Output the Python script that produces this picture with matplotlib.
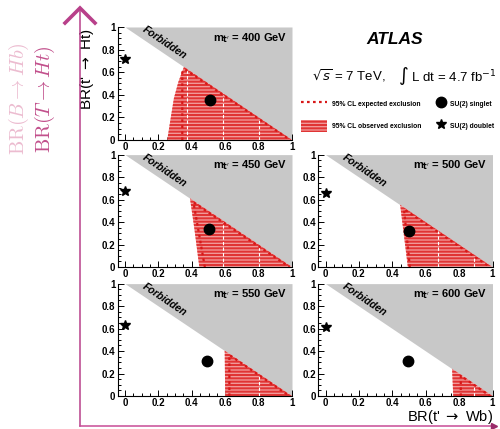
import matplotlib.pyplot as plt
from matplotlib.ticker import MultipleLocator, FuncFormatter
from matplotlib.lines import Line2D
from matplotlib.patches import Patch

plt.rcParams['font.family'] = ['Liberation Sans', 'DejaVu Sans']
plt.rcParams['hatch.linewidth'] = 1.45
plt.rcParams['hatch.color'] = '#e03434'

masses = [400, 450, 500, 550, 600]

# observed exclusion: left edge, bottom -> diagonal (BR(Wb), BR(Ht))
obs_x = {400: [0.253, 0.27, 0.293, 0.32, 0.353],
         450: [0.445, 0.415, 0.389],
         500: [0.493, 0.447],
         550: [0.600, 0.597],
         600: [0.765, 0.758]}
obs_y = {400: [0.0, 0.16, 0.37, 0.516, 0.647],
         450: [0.0, 0.345, 0.611],
         500: [0.0, 0.553],
         550: [0.0, 0.403],
         600: [0.0, 0.242]}

# expected exclusion contour
exp_x = {400: [0.343, 0.343, 0.36, 0.99],
         450: [0.478, 0.41, 0.985],
         500: [0.505, 0.47, 0.985],
         550: [0.625, 0.625, 0.985],
         600: [0.81, 0.81, 0.985]}
exp_y = {400: [0.0, 0.6, 0.625, 0.0],
         450: [0.0, 0.575, 0.0],
         500: [0.0, 0.515, 0.0],
         550: [0.0, 0.365, 0.0],
         600: [0.0, 0.18, 0.0]}

# white dashed grid artefacts inside the hatched area
grid_x = {400: [0.373, 0.589, 0.802],
          450: [0.589, 0.80],
          500: [0.674, 0.889],
          550: [0.80],
          600: [0.889]}

singlet_x = [0.51, 0.50, 0.50, 0.49, 0.495]
singlet_y = [0.354, 0.336, 0.324, 0.314, 0.31]
doublet_x = [0.0, 0.0, 0.0, 0.0, 0.0]
doublet_y = [0.714, 0.68, 0.655, 0.634, 0.616]

boxes = {400: [0.235, 0.6737, 0.349, 0.2634],
         450: [0.235, 0.3776, 0.349, 0.2620],
         500: [0.636, 0.3776, 0.349, 0.2620],
         550: [0.235, 0.0769, 0.349, 0.2620],
         600: [0.636, 0.0769, 0.349, 0.2620]}

red = '#d81818'
grey = '#c8c8c8'
pink = '#f29a9a'

fig = plt.figure(figsize=(5.0, 4.29), dpi=100)

diag = [0.0, 1.0]
for i, m in enumerate(masses):
    ax = fig.add_axes(boxes[m])
    ax.fill_between(diag, [1.0, 0.0], [1.0, 1.0], color=grey, lw=0, zorder=1)
    ax.fill(obs_x[m] + [1.0], obs_y[m] + [0.0], facecolor=pink, edgecolor='#e03434',
            hatch='-----', lw=0, zorder=2)
    for gx in grid_x[m]:
        ax.plot([gx, gx], [0.0, 1.0 - gx - 0.01], color='white', lw=0.8,
                ls=(0, (3, 2)), zorder=3)
    ax.plot(exp_x[m], exp_y[m], color=red, lw=1.6, ls=(0, (1.2, 1.5)), zorder=4)
    ax.plot(singlet_x[i], singlet_y[i], 'o', color='black', ms=7.5, zorder=5)
    ax.plot(doublet_x[i], doublet_y[i], '*', color='black', ms=7.5, zorder=5)
    ax.text(0.235, 0.86, 'Forbidden', rotation=-34, ha='center', va='center',
            fontsize=7.5, fontweight='bold', style='italic', zorder=6)
    ax.text(0.97, 0.905, r"m$_{\mathbf{t'}}$ = %d GeV" % m, ha='right', va='center',
            fontsize=8, fontweight='bold', zorder=6)
    ax.set_xlim(-0.045, 1.0)
    ax.set_ylim(0.0, 1.0)
    ax.xaxis.set_major_locator(MultipleLocator(0.2))
    ax.xaxis.set_minor_locator(MultipleLocator(0.05))
    ax.yaxis.set_major_locator(MultipleLocator(0.2))
    ax.yaxis.set_minor_locator(MultipleLocator(0.05))
    fmt = FuncFormatter(lambda v, p: '%g' % round(v, 2))
    ax.xaxis.set_major_formatter(fmt)
    ax.yaxis.set_major_formatter(fmt)
    ax.tick_params(which='both', direction='in', labelsize=7, pad=1.5, width=0.7)
    ax.tick_params(which='major', length=4)
    ax.tick_params(which='minor', length=2)
    for lab in ax.get_xticklabels() + ax.get_yticklabels():
        lab.set_fontweight('bold')
    ax.spines['top'].set_visible(False)
    ax.spines['right'].set_visible(False)
    ax.set_zorder(2)

# header text
fig.text(395 / 500, 1 - 40 / 429, 'ATLAS', ha='center', va='center', fontsize=12.5,
         fontweight='bold', style='italic')
fig.text(312 / 500, 1 - 76 / 429, r'$\sqrt{s}$ = 7 TeV,', ha='left', va='center', fontsize=9.5)
fig.text(398 / 500, 1 - 76 / 429, r'$\int$ L dt = 4.7 fb$^{-1}$', ha='left', va='center',
         fontsize=9.5)

h_exp = Line2D([], [], color=red, lw=1.6, ls=(0, (1.2, 1.5)))
h_obs = Patch(facecolor=pink, edgecolor='#e03434', hatch='-----', lw=0)
h_sing = Line2D([], [], marker='o', color='black', ls='none', ms=7.5)
h_doub = Line2D([], [], marker='*', color='black', ls='none', ms=7.5)
leg_kw = dict(frameon=False, borderpad=0, borderaxespad=0, handleheight=2.4,
              labelspacing=1.4, prop={'weight': 'bold', 'size': 4.9})
fig.legend([h_exp, h_obs], ['95% CL expected exclusion', '95% CL observed exclusion'],
           loc='upper left', bbox_to_anchor=(301 / 500, 1 - 98 / 429),
           handlelength=3.8, handletextpad=0.8, **leg_kw)
fig.legend([h_sing, h_doub], ['SU(2) singlet', 'SU(2) doublet'],
           loc='upper left', bbox_to_anchor=(437 / 500, 1 - 98 / 429),
           handlelength=1.3, handletextpad=0.6, **leg_kw)

# axis titles
fig.text(87 / 500, 1 - 69 / 429, r"BR(t' $\rightarrow$ Ht)", rotation=90, ha='center',
         va='center', fontsize=11)
fig.text(493 / 500, 1 - 421 / 429, r"BR(t' $\rightarrow$ Wb)", ha='right', va='baseline',
         fontsize=10.5)

# overlay with magenta arrows and relabelled axis
ov = fig.add_axes([0, 0, 1, 1], zorder=10)
ov.set_xlim(0, 500)
ov.set_ylim(429, 0)
ov.axis('off')
ov.patch.set_alpha(0)
mag = '#b8408a'
ov.plot([80, 80], [9, 426], color=mag, lw=1.1)
ov.plot([65, 80, 95], [23, 8, 23], color=mag, lw=2.6, solid_joinstyle='miter')
ov.plot([80, 493], [426, 426], color='#c84c96', lw=1.1)
ov.plot([494], [426], marker='>', color='#9a2a6a', ms=4)
ov.text(19, 99, r'$\mathrm{BR}(B \rightarrow Hb)$', rotation=90, ha='center', va='center',
        fontsize=14.5, color='#ecbcd0', math_fontfamily='cm')
ov.text(45, 99, r'$\mathrm{BR}(T \rightarrow Ht)$', rotation=90, ha='center', va='center',
        fontsize=14.5, color='#c2508c', math_fontfamily='cm')

fig.savefig('out.png', dpi=100)
